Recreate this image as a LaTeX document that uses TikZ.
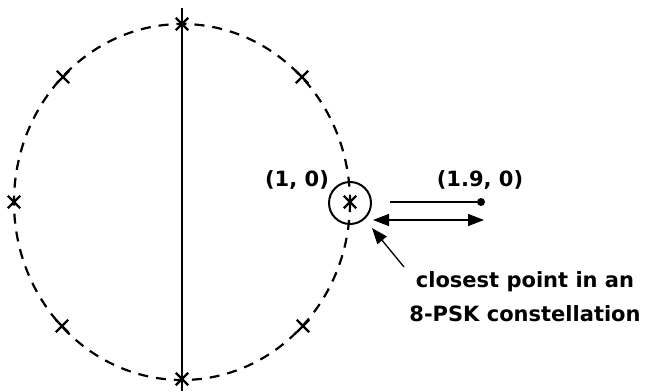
\documentclass[tikz,border=0pt]{standalone}
\usepackage{fontspec}
\setmainfont{DejaVu Sans}
\usetikzlibrary{arrows.meta,shapes.misc}
\begin{document}
\begin{tikzpicture}[x=1pt,y=-1pt,
  xmark/.style={cross out,draw,minimum size=10pt,inner sep=0pt,line width=2.4pt},
  lbl/.style={font=\bfseries\fontsize{21}{34}\selectfont,inner sep=0pt},
  tip/.style={-{Triangle[length=16pt,width=12pt]}},
  dtip/.style={{Triangle[length=16pt,width=12pt]}-{Triangle[length=16pt,width=12pt]}}]
\useasboundingbox (0,0) rectangle (645,391);
% axis and dashed circle
\coordinate (ctr) at (182,202);
\coordinate (vtop) at (182,8);
\coordinate (vbot) at (182,391);
\draw[line width=1.2pt] (vtop) -- (vbot);
\draw[dash pattern=on 10pt off 8pt,line width=2.2pt] (ctr) ellipse [x radius=168, y radius=178];
% constellation points
\node[xmark] (p0) at (350,202) {};
\node[xmark] (p1) at (302,77) {};
\node[xmark] (p2) at (182,24) {};
\node[xmark] (p3) at (63,77) {};
\node[xmark] (p4) at (14,202) {};
\node[xmark] (p5) at (62,326) {};
\node[xmark] (p6) at (182,379) {};
\node[xmark] (p7) at (303,326) {};
% small circle around (1,0)
\node[circle,draw,line width=2pt,minimum size=42pt,inner sep=0pt] (ring) at (350,203) {};
% labels
\node[lbl] (l10) at (297,180) {(1, 0)};
\node[lbl] (l19) at (480,180) {(1.9, 0)};
\node[lbl,align=center] (note) at (525,297) {closest point in an\\8-PSK constellation};
% received point
\node[circle,fill,inner sep=0pt,minimum size=8pt] (rx) at (481,202) {};
\coordinate (lstart) at (390,202);
\draw[line width=1.3pt] (lstart) -- (rx);
% distance arrow
\coordinate (da) at (373,220);
\coordinate (db) at (484,220);
\draw[dtip,line width=1.4pt] (da) -- (db);
% pointer
\coordinate (ptail) at (404,267);
\coordinate (phead) at (372,228);
\draw[tip,line width=1.3pt] (ptail) -- (phead);
\end{tikzpicture}
\end{document}
